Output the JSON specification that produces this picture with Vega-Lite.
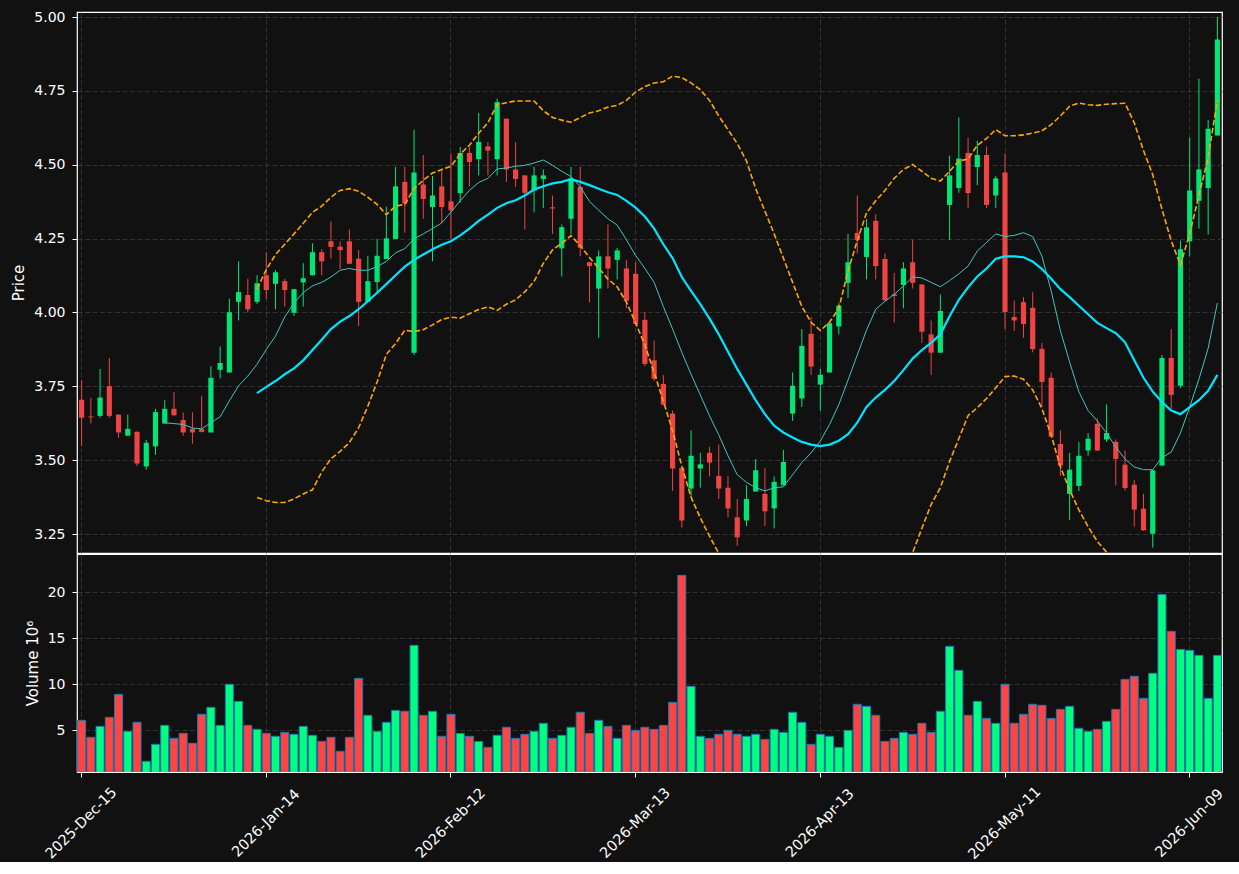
{
"$schema": "https://vega.github.io/schema/vega-lite/v6.json",
"background": "#111111",
"padding": {"left": 11, "top": 9, "right": 17, "bottom": 0},
"spacing": -2,
"config": {
  "font": "DejaVu Sans",
  "view": {"stroke": "#ffffff", "strokeWidth": 1.2},
  "axis": {"labelColor": "#ffffff", "titleColor": "#ffffff", "labelFontSize": 14, "titleFontSize": 15, "titleFontWeight": "normal", "tickColor": "#ffffff", "tickSize": 5, "labelPadding": 7, "titlePadding": 7, "domain": false, "gridColor": "#3a3a3a", "gridDash": [5, 2.5], "gridWidth": 0.8}
},
"data": {"values": [
{"d":"2025-Dec-15","o":3.705,"h":3.771,"l":3.548,"c":3.644,"v":6.09,"m10":null,"m20":null,"ub":null,"lb":null},
{"d":"2025-Dec-16","o":3.648,"h":3.711,"l":3.624,"c":3.645,"v":4.24,"m10":null,"m20":null,"ub":null,"lb":null},
{"d":"2025-Dec-17","o":3.650,"h":3.809,"l":3.644,"c":3.712,"v":5.43,"m10":null,"m20":null,"ub":null,"lb":null},
{"d":"2025-Dec-18","o":3.751,"h":3.846,"l":3.644,"c":3.650,"v":6.41,"m10":null,"m20":null,"ub":null,"lb":null},
{"d":"2025-Dec-19","o":3.654,"h":3.656,"l":3.576,"c":3.594,"v":8.91,"m10":null,"m20":null,"ub":null,"lb":null},
{"d":"2025-Dec-22","o":3.583,"h":3.654,"l":3.583,"c":3.606,"v":4.89,"m10":null,"m20":null,"ub":null,"lb":null},
{"d":"2025-Dec-23","o":3.596,"h":3.598,"l":3.480,"c":3.489,"v":5.87,"m10":null,"m20":null,"ub":null,"lb":null},
{"d":"2025-Dec-24","o":3.479,"h":3.569,"l":3.468,"c":3.559,"v":1.63,"m10":null,"m20":null,"ub":null,"lb":null},
{"d":"2025-Dec-26","o":3.547,"h":3.674,"l":3.518,"c":3.663,"v":3.48,"m10":null,"m20":null,"ub":null,"lb":null},
{"d":"2025-Dec-29","o":3.624,"h":3.703,"l":3.624,"c":3.674,"v":5.54,"m10":3.627,"m20":null,"ub":null,"lb":null},
{"d":"2025-Dec-30","o":3.674,"h":3.730,"l":3.651,"c":3.652,"v":4.13,"m10":3.624,"m20":null,"ub":null,"lb":null},
{"d":"2025-Dec-31","o":3.636,"h":3.662,"l":3.583,"c":3.594,"v":4.67,"m10":3.621,"m20":null,"ub":null,"lb":null},
{"d":"2026-Jan-02","o":3.606,"h":3.662,"l":3.556,"c":3.594,"v":3.59,"m10":3.609,"m20":null,"ub":null,"lb":null},
{"d":"2026-Jan-05","o":3.605,"h":3.718,"l":3.594,"c":3.596,"v":6.74,"m10":3.606,"m20":null,"ub":null,"lb":null},
{"d":"2026-Jan-06","o":3.594,"h":3.818,"l":3.594,"c":3.779,"v":7.50,"m10":3.627,"m20":null,"ub":null,"lb":null},
{"d":"2026-Jan-07","o":3.806,"h":3.885,"l":3.777,"c":3.829,"v":5.54,"m10":3.647,"m20":null,"ub":null,"lb":null},
{"d":"2026-Jan-08","o":3.797,"h":4.046,"l":3.797,"c":4.001,"v":10.0,"m10":3.701,"m20":null,"ub":null,"lb":null},
{"d":"2026-Jan-09","o":4.036,"h":4.173,"l":3.973,"c":4.069,"v":8.15,"m10":3.752,"m20":null,"ub":null,"lb":null},
{"d":"2026-Jan-12","o":4.059,"h":4.114,"l":4.001,"c":4.011,"v":5.54,"m10":3.785,"m20":null,"ub":null,"lb":null},
{"d":"2026-Jan-13","o":4.036,"h":4.126,"l":4.029,"c":4.099,"v":5.11,"m10":3.825,"m20":3.727,"ub":4.080,"lb":3.374},
{"d":"2026-Jan-14","o":4.126,"h":4.204,"l":4.046,"c":4.076,"v":4.67,"m10":3.875,"m20":3.748,"ub":4.145,"lb":3.363},
{"d":"2026-Jan-15","o":4.097,"h":4.143,"l":4.011,"c":4.136,"v":4.35,"m10":3.920,"m20":3.768,"ub":4.196,"lb":3.357},
{"d":"2026-Jan-16","o":4.106,"h":4.114,"l":4.020,"c":4.076,"v":4.78,"m10":3.985,"m20":3.791,"ub":4.231,"lb":3.357},
{"d":"2026-Jan-20","o":3.999,"h":4.079,"l":3.989,"c":4.079,"v":4.57,"m10":4.032,"m20":3.811,"ub":4.266,"lb":3.369},
{"d":"2026-Jan-21","o":4.102,"h":4.167,"l":4.020,"c":4.116,"v":5.43,"m10":4.067,"m20":3.838,"ub":4.302,"lb":3.386},
{"d":"2026-Jan-22","o":4.126,"h":4.234,"l":4.126,"c":4.204,"v":4.46,"m10":4.090,"m20":3.873,"ub":4.339,"lb":3.400},
{"d":"2026-Jan-23","o":4.204,"h":4.214,"l":4.126,"c":4.173,"v":3.80,"m10":4.102,"m20":3.908,"ub":4.360,"lb":3.460},
{"d":"2026-Jan-26","o":4.241,"h":4.308,"l":4.182,"c":4.222,"v":4.24,"m10":4.120,"m20":3.944,"ub":4.390,"lb":3.505},
{"d":"2026-Jan-27","o":4.223,"h":4.241,"l":4.147,"c":4.211,"v":2.72,"m10":4.143,"m20":3.969,"ub":4.413,"lb":3.530},
{"d":"2026-Jan-28","o":4.241,"h":4.281,"l":4.164,"c":4.165,"v":4.24,"m10":4.149,"m20":3.988,"ub":4.419,"lb":3.560},
{"d":"2026-Jan-29","o":4.182,"h":4.211,"l":3.954,"c":4.036,"v":10.65,"m10":4.143,"m20":4.011,"ub":4.410,"lb":3.610},
{"d":"2026-Jan-30","o":4.036,"h":4.192,"l":4.036,"c":4.106,"v":6.63,"m10":4.143,"m20":4.038,"ub":4.390,"lb":3.683},
{"d":"2026-Feb-02","o":4.103,"h":4.249,"l":4.069,"c":4.192,"v":4.89,"m10":4.155,"m20":4.067,"ub":4.366,"lb":3.765},
{"d":"2026-Feb-03","o":4.181,"h":4.358,"l":4.181,"c":4.251,"v":5.87,"m10":4.173,"m20":4.096,"ub":4.331,"lb":3.858},
{"d":"2026-Feb-04","o":4.249,"h":4.493,"l":4.249,"c":4.427,"v":7.17,"m10":4.202,"m20":4.126,"ub":4.360,"lb":3.895},
{"d":"2026-Feb-05","o":4.442,"h":4.493,"l":4.270,"c":4.369,"v":7.07,"m10":4.216,"m20":4.155,"ub":4.366,"lb":3.940},
{"d":"2026-Feb-06","o":3.864,"h":4.619,"l":3.856,"c":4.474,"v":14.24,"m10":4.249,"m20":4.178,"ub":4.419,"lb":3.935},
{"d":"2026-Feb-09","o":4.433,"h":4.533,"l":4.317,"c":4.384,"v":6.63,"m10":4.266,"m20":4.196,"ub":4.448,"lb":3.942},
{"d":"2026-Feb-10","o":4.357,"h":4.462,"l":4.173,"c":4.396,"v":7.07,"m10":4.284,"m20":4.214,"ub":4.472,"lb":3.958},
{"d":"2026-Feb-11","o":4.427,"h":4.484,"l":4.304,"c":4.357,"v":4.35,"m10":4.303,"m20":4.229,"ub":4.484,"lb":3.976},
{"d":"2026-Feb-12","o":4.376,"h":4.539,"l":4.249,"c":4.346,"v":6.74,"m10":4.340,"m20":4.241,"ub":4.495,"lb":3.984},
{"d":"2026-Feb-13","o":4.404,"h":4.560,"l":4.372,"c":4.540,"v":4.67,"m10":4.378,"m20":4.261,"ub":4.536,"lb":3.981},
{"d":"2026-Feb-17","o":4.540,"h":4.560,"l":4.427,"c":4.509,"v":4.35,"m10":4.413,"m20":4.284,"ub":4.566,"lb":3.996},
{"d":"2026-Feb-18","o":4.519,"h":4.675,"l":4.464,"c":4.577,"v":3.80,"m10":4.440,"m20":4.310,"ub":4.607,"lb":4.010},
{"d":"2026-Feb-19","o":4.562,"h":4.577,"l":4.464,"c":4.548,"v":3.15,"m10":4.454,"m20":4.331,"ub":4.642,"lb":4.019},
{"d":"2026-Feb-20","o":4.519,"h":4.724,"l":4.464,"c":4.712,"v":4.46,"m10":4.486,"m20":4.354,"ub":4.703,"lb":4.007},
{"d":"2026-Feb-23","o":4.656,"h":4.656,"l":4.442,"c":4.484,"v":5.33,"m10":4.489,"m20":4.370,"ub":4.710,"lb":4.028},
{"d":"2026-Feb-24","o":4.484,"h":4.577,"l":4.425,"c":4.452,"v":4.13,"m10":4.495,"m20":4.380,"ub":4.716,"lb":4.043},
{"d":"2026-Feb-25","o":4.464,"h":4.464,"l":4.281,"c":4.405,"v":4.57,"m10":4.498,"m20":4.396,"ub":4.716,"lb":4.070},
{"d":"2026-Feb-26","o":4.413,"h":4.493,"l":4.339,"c":4.464,"v":4.89,"m10":4.506,"m20":4.416,"ub":4.716,"lb":4.105},
{"d":"2026-Feb-27","o":4.452,"h":4.484,"l":4.354,"c":4.464,"v":5.76,"m10":4.516,"m20":4.427,"ub":4.683,"lb":4.166},
{"d":"2026-Mar-02","o":4.356,"h":4.396,"l":4.266,"c":4.352,"v":4.13,"m10":4.498,"m20":4.437,"ub":4.660,"lb":4.212},
{"d":"2026-Mar-03","o":4.217,"h":4.298,"l":4.122,"c":4.289,"v":4.46,"m10":4.478,"m20":4.442,"ub":4.651,"lb":4.234},
{"d":"2026-Mar-04","o":4.317,"h":4.493,"l":4.266,"c":4.454,"v":5.33,"m10":4.460,"m20":4.451,"ub":4.644,"lb":4.260},
{"d":"2026-Mar-05","o":4.425,"h":4.493,"l":4.190,"c":4.219,"v":6.96,"m10":4.425,"m20":4.442,"ub":4.660,"lb":4.226},
{"d":"2026-Mar-06","o":4.170,"h":4.170,"l":4.034,"c":4.157,"v":4.67,"m10":4.376,"m20":4.431,"ub":4.675,"lb":4.186},
{"d":"2026-Mar-09","o":4.081,"h":4.210,"l":3.914,"c":4.190,"v":6.09,"m10":4.346,"m20":4.419,"ub":4.683,"lb":4.150},
{"d":"2026-Mar-10","o":4.190,"h":4.298,"l":4.081,"c":4.149,"v":5.43,"m10":4.317,"m20":4.407,"ub":4.695,"lb":4.113},
{"d":"2026-Mar-11","o":4.178,"h":4.219,"l":4.112,"c":4.210,"v":4.13,"m10":4.296,"m20":4.398,"ub":4.701,"lb":4.087},
{"d":"2026-Mar-12","o":4.149,"h":4.178,"l":4.014,"c":4.040,"v":5.54,"m10":4.246,"m20":4.378,"ub":4.718,"lb":4.035},
{"d":"2026-Mar-13","o":4.131,"h":4.170,"l":3.955,"c":3.961,"v":5.00,"m10":4.193,"m20":4.355,"ub":4.746,"lb":3.965},
{"d":"2026-Mar-16","o":3.975,"h":4.002,"l":3.818,"c":3.826,"v":5.33,"m10":4.149,"m20":4.325,"ub":4.765,"lb":3.890},
{"d":"2026-Mar-17","o":3.838,"h":3.905,"l":3.768,"c":3.776,"v":5.11,"m10":4.102,"m20":4.284,"ub":4.777,"lb":3.797},
{"d":"2026-Mar-18","o":3.758,"h":3.788,"l":3.686,"c":3.688,"v":5.54,"m10":4.020,"m20":4.231,"ub":4.781,"lb":3.700},
{"d":"2026-Mar-19","o":3.658,"h":3.668,"l":3.396,"c":3.472,"v":8.04,"m10":3.944,"m20":4.184,"ub":4.800,"lb":3.600},
{"d":"2026-Mar-20","o":3.474,"h":3.474,"l":3.272,"c":3.296,"v":21.85,"m10":3.865,"m20":4.120,"ub":4.795,"lb":3.480},
{"d":"2026-Mar-23","o":3.404,"h":3.601,"l":3.374,"c":3.515,"v":9.78,"m10":3.791,"m20":4.073,"ub":4.777,"lb":3.375},
{"d":"2026-Mar-24","o":3.472,"h":3.525,"l":3.407,"c":3.486,"v":4.35,"m10":3.721,"m20":4.028,"ub":4.754,"lb":3.305},
{"d":"2026-Mar-25","o":3.525,"h":3.545,"l":3.445,"c":3.492,"v":4.13,"m10":3.650,"m20":3.979,"ub":4.718,"lb":3.243},
{"d":"2026-Mar-26","o":3.447,"h":3.553,"l":3.369,"c":3.404,"v":4.57,"m10":3.586,"m20":3.926,"ub":4.665,"lb":3.185},
{"d":"2026-Mar-27","o":3.407,"h":3.447,"l":3.307,"c":3.337,"v":5.00,"m10":3.515,"m20":3.867,"ub":4.619,"lb":3.115},
{"d":"2026-Mar-30","o":3.307,"h":3.369,"l":3.210,"c":3.239,"v":4.57,"m10":3.451,"m20":3.809,"ub":4.572,"lb":3.046},
{"d":"2026-Mar-31","o":3.296,"h":3.415,"l":3.277,"c":3.369,"v":4.35,"m10":3.425,"m20":3.756,"ub":4.513,"lb":2.999},
{"d":"2026-Apr-01","o":3.394,"h":3.504,"l":3.394,"c":3.466,"v":4.57,"m10":3.407,"m20":3.703,"ub":4.419,"lb":2.987},
{"d":"2026-Apr-02","o":3.386,"h":3.474,"l":3.277,"c":3.327,"v":4.02,"m10":3.396,"m20":3.656,"ub":4.343,"lb":2.969},
{"d":"2026-Apr-06","o":3.337,"h":3.445,"l":3.269,"c":3.427,"v":5.11,"m10":3.407,"m20":3.617,"ub":4.266,"lb":2.968},
{"d":"2026-Apr-07","o":3.415,"h":3.535,"l":3.415,"c":3.494,"v":4.78,"m10":3.410,"m20":3.594,"ub":4.184,"lb":3.004},
{"d":"2026-Apr-08","o":3.658,"h":3.797,"l":3.633,"c":3.752,"v":6.96,"m10":3.451,"m20":3.577,"ub":4.102,"lb":3.052},
{"d":"2026-Apr-09","o":3.709,"h":3.944,"l":3.680,"c":3.887,"v":5.87,"m10":3.492,"m20":3.562,"ub":4.020,"lb":3.104},
{"d":"2026-Apr-10","o":3.928,"h":3.985,"l":3.788,"c":3.817,"v":3.48,"m10":3.525,"m20":3.553,"ub":3.967,"lb":3.139},
{"d":"2026-Apr-13","o":3.756,"h":3.809,"l":3.668,"c":3.789,"v":4.57,"m10":3.565,"m20":3.548,"ub":3.939,"lb":3.158},
{"d":"2026-Apr-14","o":3.797,"h":3.966,"l":3.797,"c":3.964,"v":4.35,"m10":3.621,"m20":3.553,"ub":3.967,"lb":3.139},
{"d":"2026-Apr-15","o":3.953,"h":4.032,"l":3.926,"c":4.023,"v":3.15,"m10":3.688,"m20":3.566,"ub":4.014,"lb":3.118},
{"d":"2026-Apr-16","o":4.100,"h":4.266,"l":4.049,"c":4.170,"v":5.00,"m10":3.771,"m20":3.588,"ub":4.140,"lb":3.036},
{"d":"2026-Apr-17","o":4.269,"h":4.396,"l":4.200,"c":4.246,"v":7.83,"m10":3.856,"m20":3.627,"ub":4.243,"lb":3.011},
{"d":"2026-Apr-20","o":4.188,"h":4.316,"l":4.112,"c":4.288,"v":7.61,"m10":3.940,"m20":3.680,"ub":4.337,"lb":3.023},
{"d":"2026-Apr-21","o":4.310,"h":4.333,"l":4.112,"c":4.157,"v":6.63,"m10":4.011,"m20":3.712,"ub":4.378,"lb":3.046},
{"d":"2026-Apr-22","o":4.181,"h":4.200,"l":4.041,"c":4.041,"v":3.80,"m10":4.038,"m20":3.738,"ub":4.413,"lb":3.063},
{"d":"2026-Apr-23","o":4.062,"h":4.134,"l":3.966,"c":4.056,"v":4.13,"m10":4.061,"m20":3.768,"ub":4.454,"lb":3.082},
{"d":"2026-Apr-24","o":4.093,"h":4.170,"l":4.014,"c":4.149,"v":4.78,"m10":4.090,"m20":3.805,"ub":4.484,"lb":3.126},
{"d":"2026-Apr-27","o":4.170,"h":4.246,"l":4.081,"c":4.100,"v":4.57,"m10":4.120,"m20":3.844,"ub":4.501,"lb":3.187},
{"d":"2026-Apr-28","o":4.095,"h":4.095,"l":3.897,"c":3.935,"v":5.76,"m10":4.117,"m20":3.873,"ub":4.478,"lb":3.270},
{"d":"2026-Apr-29","o":3.926,"h":3.973,"l":3.788,"c":3.864,"v":4.78,"m10":4.102,"m20":3.897,"ub":4.454,"lb":3.350},
{"d":"2026-Apr-30","o":3.864,"h":4.061,"l":3.864,"c":4.005,"v":7.07,"m10":4.087,"m20":3.926,"ub":4.445,"lb":3.407},
{"d":"2026-May-01","o":4.364,"h":4.531,"l":4.245,"c":4.464,"v":14.13,"m10":4.108,"m20":3.987,"ub":4.478,"lb":3.496},
{"d":"2026-May-04","o":4.421,"h":4.660,"l":4.405,"c":4.521,"v":11.52,"m10":4.131,"m20":4.043,"ub":4.513,"lb":3.573},
{"d":"2026-May-05","o":4.540,"h":4.592,"l":4.354,"c":4.404,"v":6.63,"m10":4.157,"m20":4.085,"ub":4.519,"lb":3.651},
{"d":"2026-May-06","o":4.492,"h":4.581,"l":4.431,"c":4.533,"v":8.15,"m10":4.208,"m20":4.122,"ub":4.566,"lb":3.678},
{"d":"2026-May-07","o":4.533,"h":4.562,"l":4.354,"c":4.364,"v":6.30,"m10":4.237,"m20":4.149,"ub":4.589,"lb":3.709},
{"d":"2026-May-08","o":4.396,"h":4.462,"l":4.354,"c":4.454,"v":5.76,"m10":4.266,"m20":4.182,"ub":4.619,"lb":3.745},
{"d":"2026-May-11","o":4.474,"h":4.539,"l":3.944,"c":4.002,"v":10.0,"m10":4.257,"m20":4.190,"ub":4.598,"lb":3.783},
{"d":"2026-May-12","o":3.985,"h":4.041,"l":3.938,"c":3.973,"v":5.76,"m10":4.261,"m20":4.190,"ub":4.598,"lb":3.785},
{"d":"2026-May-13","o":4.035,"h":4.052,"l":3.914,"c":3.961,"v":6.74,"m10":4.270,"m20":4.187,"ub":4.601,"lb":3.774},
{"d":"2026-May-14","o":4.016,"h":4.069,"l":3.865,"c":3.876,"v":7.83,"m10":4.257,"m20":4.173,"ub":4.607,"lb":3.738},
{"d":"2026-May-15","o":3.877,"h":3.897,"l":3.680,"c":3.765,"v":7.72,"m10":4.190,"m20":4.147,"ub":4.615,"lb":3.675},
{"d":"2026-May-18","o":3.779,"h":3.797,"l":3.578,"c":3.580,"v":6.30,"m10":4.073,"m20":4.114,"ub":4.636,"lb":3.585},
{"d":"2026-May-19","o":3.555,"h":3.601,"l":3.447,"c":3.482,"v":7.28,"m10":3.938,"m20":4.079,"ub":4.665,"lb":3.478},
{"d":"2026-May-20","o":3.386,"h":3.525,"l":3.298,"c":3.468,"v":7.61,"m10":3.832,"m20":4.052,"ub":4.698,"lb":3.400},
{"d":"2026-May-21","o":3.413,"h":3.562,"l":3.396,"c":3.515,"v":5.22,"m10":3.732,"m20":4.023,"ub":4.709,"lb":3.332},
{"d":"2026-May-22","o":3.533,"h":3.592,"l":3.515,"c":3.573,"v":4.89,"m10":3.668,"m20":3.994,"ub":4.703,"lb":3.275},
{"d":"2026-May-26","o":3.623,"h":3.642,"l":3.531,"c":3.533,"v":5.11,"m10":3.633,"m20":3.965,"ub":4.701,"lb":3.225},
{"d":"2026-May-27","o":3.570,"h":3.689,"l":3.562,"c":3.592,"v":5.98,"m10":3.592,"m20":3.947,"ub":4.705,"lb":3.189},
{"d":"2026-May-28","o":3.562,"h":3.570,"l":3.415,"c":3.504,"v":7.28,"m10":3.545,"m20":3.930,"ub":4.707,"lb":3.153},
{"d":"2026-May-29","o":3.485,"h":3.533,"l":3.398,"c":3.406,"v":10.54,"m10":3.504,"m20":3.899,"ub":4.708,"lb":3.090},
{"d":"2026-Jun-01","o":3.417,"h":3.433,"l":3.275,"c":3.333,"v":10.87,"m10":3.477,"m20":3.838,"ub":4.642,"lb":3.034},
{"d":"2026-Jun-02","o":3.336,"h":3.386,"l":3.261,"c":3.263,"v":8.48,"m10":3.468,"m20":3.779,"ub":4.548,"lb":3.010},
{"d":"2026-Jun-03","o":3.251,"h":3.468,"l":3.204,"c":3.466,"v":11.20,"m10":3.468,"m20":3.732,"ub":4.466,"lb":2.998},
{"d":"2026-Jun-04","o":3.482,"h":3.856,"l":3.482,"c":3.846,"v":19.78,"m10":3.509,"m20":3.697,"ub":4.349,"lb":3.045},
{"d":"2026-Jun-05","o":3.846,"h":3.944,"l":3.674,"c":3.721,"v":15.76,"m10":3.527,"m20":3.668,"ub":4.243,"lb":3.093},
{"d":"2026-Jun-08","o":3.752,"h":4.243,"l":3.744,"c":4.214,"v":13.80,"m10":3.592,"m20":3.656,"ub":4.161,"lb":3.151},
{"d":"2026-Jun-09","o":4.241,"h":4.592,"l":4.190,"c":4.413,"v":13.70,"m10":3.680,"m20":3.680,"ub":4.266,"lb":3.094},
{"d":"2026-Jun-10","o":4.378,"h":4.791,"l":4.284,"c":4.484,"v":13.15,"m10":3.774,"m20":3.703,"ub":4.396,"lb":3.010},
{"d":"2026-Jun-11","o":4.421,"h":4.651,"l":4.264,"c":4.622,"v":8.48,"m10":3.879,"m20":3.735,"ub":4.525,"lb":2.945},
{"d":"2026-Jun-12","o":4.599,"h":5.000,"l":4.599,"c":4.924,"v":13.15,"m10":4.032,"m20":3.789,"ub":4.718,"lb":2.860}
]},
"vconcat": [
  {
    "width": 1145,
    "height": 541,
    "encoding": {
      "x": {"field": "d", "type": "ordinal", "sort": null, "scale": {"paddingInner": 0, "paddingOuter": 0},
            "axis": {"values": ["2025-Dec-15","2026-Jan-14","2026-Feb-12","2026-Mar-13","2026-Apr-13","2026-May-11","2026-Jun-09"], "labels": false, "ticks": false, "title": null, "grid": true, "minExtent": 0, "maxExtent": 0, "labelPadding": 0, "offset": 0}}
    },
    "layer": [
      {
        "mark": {"type": "rule", "strokeWidth": 1, "clip": true},
        "encoding": {
          "y": {"field": "l", "type": "quantitative", "scale": {"domain": [3.186, 5.017], "zero": false, "nice": false},
                "axis": {"values": [3.25, 3.5, 3.75, 4.0, 4.25, 4.5, 4.75, 5.0], "format": ".2f", "title": "Price", "grid": true}},
          "y2": {"field": "h"},
          "color": {"condition": {"test": "datum.c >= datum.o", "value": "#00e676"}, "value": "#ef4444"}
        }
      },
      {
        "mark": {"type": "bar", "width": {"band": 0.56}, "clip": true},
        "encoding": {
          "y": {"field": "o", "type": "quantitative"},
          "y2": {"field": "c"},
          "color": {"condition": {"test": "datum.c >= datum.o", "value": "#00e676"}, "value": "#ef4444"}
        }
      },
      {
        "mark": {"type": "line", "color": "#ffa500", "strokeWidth": 1.6, "strokeDash": [5.5, 2.5], "clip": true},
        "encoding": {"y": {"field": "ub", "type": "quantitative"}}
      },
      {
        "mark": {"type": "line", "color": "#ffa500", "strokeWidth": 1.6, "strokeDash": [5.5, 2.5], "clip": true},
        "encoding": {"y": {"field": "lb", "type": "quantitative"}}
      },
      {
        "mark": {"type": "line", "color": "#3fc6be", "strokeWidth": 1, "clip": true},
        "encoding": {"y": {"field": "m10", "type": "quantitative"}}
      },
      {
        "mark": {"type": "line", "color": "#00e5ff", "strokeWidth": 2.2, "clip": true},
        "encoding": {"y": {"field": "m20", "type": "quantitative"}}
      }
    ]
  },
  {
    "width": 1145,
    "height": 218,
    "mark": {"type": "bar", "width": {"band": 0.87}, "stroke": "#1f77b4", "strokeWidth": 1, "clip": true},
    "encoding": {
      "x": {"field": "d", "type": "ordinal", "sort": null, "scale": {"paddingInner": 0, "paddingOuter": 0},
            "axis": {"values": ["2025-Dec-15","2026-Jan-14","2026-Feb-12","2026-Mar-13","2026-Apr-13","2026-May-11","2026-Jun-09"], "labelAngle": -45, "labelAlign": "center", "labelBaseline": "middle", "labelPadding": 46, "labelFontSize": 14.5, "title": null, "grid": true}},
      "y": {"field": "v", "type": "quantitative", "scale": {"domain": [0.47, 24.17], "zero": false, "nice": false},
            "axis": {"values": [5, 10, 15, 20], "title": "Volume  10⁶", "grid": true}},
      "color": {"condition": {"test": "datum.c >= datum.o", "value": "#00ff7f"}, "value": "#ff4444"}
    }
  }
]
}
